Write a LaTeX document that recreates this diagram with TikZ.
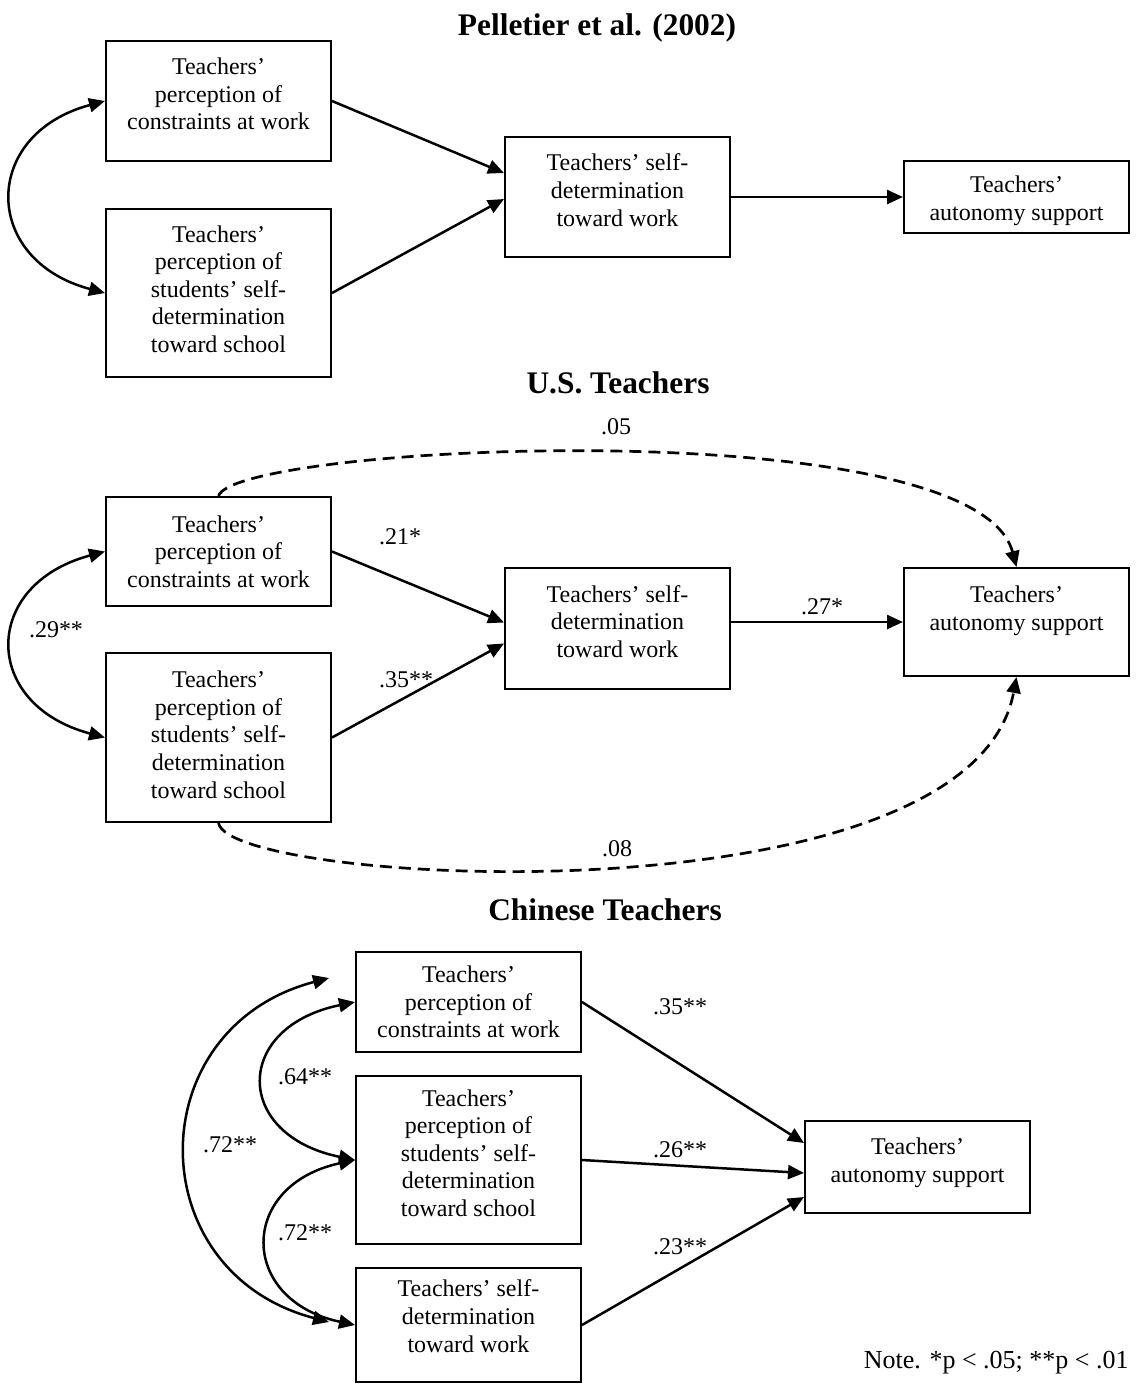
\documentclass[tikz,border=0pt]{standalone}
\usepackage{fontspec}
\setmainfont{Liberation Serif}
\usepackage{tikz}
\usetikzlibrary{arrows.meta,calc}

\begin{document}
\begin{tikzpicture}[y=-0.5pt,x=0.5pt,
	every node/.style={font=\fontsize{12}{13.8}\selectfont},
	box/.style={draw, line width=1pt, align=center, minimum width=112.5pt, inner sep=2pt},
	arr/.style={line width=1.25pt, -{Triangle[length=8pt,width=7pt]}},
	corr/.style={line width=1.25pt, {Triangle[length=8pt,width=7pt]}-{Triangle[length=8pt,width=7pt]}},
	dsh/.style={arr, line width=1.35pt, dash pattern=on 6pt off 3.5pt},
	ttl/.style={font=\fontsize{15.7}{18}\selectfont\bfseries, anchor=base},
	coef/.style={inner sep=0pt}]
	\newcommand\PCon{Teachers’\\perception of\\constraints at work}
	\newcommand\PStu{Teachers’\\perception of\\students’ self-\\determination\\toward school}
	\newcommand\SDet{Teachers’ self-\\determination\\toward work}
	\newcommand\ASup{Teachers’\\autonomy support}

	\useasboundingbox (0,0) rectangle (1136,1389);

	% Pelletier et al. (2002)
	\node[ttl] (t1) at (597,35) {Pelletier et al. (2002)};
	\node[box, minimum height=60pt] (a1) at (218.5,101) {\PCon\\[-6.8pt]};
	\node[box, minimum height=84pt] (b1) at (218.5,293) {\PStu\\[-9.8pt]};
	\node[box, minimum height=60pt] (c1) at (617.5,197) {\SDet\\[-6.8pt]};
	\node[box, minimum height=36pt] (d1) at (1016.5,197) {\rule{0pt}{12pt}\ASup};

	\draw[arr] (a1.east) -- ($(c1.west)+(0,-24)$);
	\draw[arr] (b1.east) -- ($(c1.west)+(0,2)$);
	\draw[arr] (c1) -- (d1);
	\draw[corr] (a1.west) .. controls +(-124,33) and +(-124,-33) .. (b1.west);

	% U.S. Teachers
	\node[ttl] (t2) at (618,393) {U.S. Teachers};
	\node[box, minimum height=54.5pt] (a2) at (218.5,551.5) {\PCon};
	\node[box, minimum height=84.5pt] (b2) at (218.5,737.5) {\PStu\\[-10.8pt]};
	\node[box, minimum height=60.5pt] (c2) at (617.5,628.5) {\SDet\\[-6.8pt]};
	\node[box, minimum height=54pt] (d2) at (1016.5,622) {\ASup\\[-0.2pt]};

	\draw[arr] (a2.east) -- ($(c2.west)+(0,-6)$);
	\draw[arr] (b2.east) -- ($(c2.west)+(0,15)$);
	\draw[arr] (c2.east |- d2.west) -- (d2.west);
	\draw[corr] (a2.west) .. controls +(-124,33) and +(-124,-33) .. (b2.west);
	\draw[dsh] (a2.north) .. controls +(16.5,-52) and +(-41.5,-158) .. (d2.north);
	\draw[dsh] (b2.south) .. controls +(11.5,63) and +(-46.5,249) .. (d2.south);

	\node[coef] (r21) at (400,537) {.21*};
	\node[coef] (r35) at (406,680) {.35**};
	\node[coef] (r27) at (822,607) {.27*};
	\node[coef] (r29) at (56,630) {.29**};
	\node[coef] (r05) at (616,427) {.05};
	\node[coef] (r08) at (617,849) {.08};

	% Chinese Teachers
	\node[ttl] (t3) at (605,920) {Chinese Teachers};
	\node[box, minimum height=50pt] (a3) at (468.5,1002) {\PCon};
	\node[box, minimum height=84pt] (b3) at (468.5,1160) {\PStu\\[-6.8pt]};
	\node[box, minimum height=57pt] (c3) at (468.5,1325) {\SDet\\[-4.8pt]};
	\node[box, minimum height=46pt] (d3) at (917.5,1167) {\ASup\\[-7.2pt]};

	\draw[arr] (a3.east) -- ($(d3.west)+(0,-24)$);
	\draw[arr] (b3.east) -- ($(d3.west)+(0,6)$);
	\draw[arr] (c3.east) -- ($(d3.west)+(0,30)$);
	\draw[corr] (a3.west) .. controls +(-122,25) and +(-122,-25) .. (b3.west);
	\draw[corr] (b3.west) .. controls +(-117,25) and +(-117,-25) .. (c3.west);
	\coordinate (o1) at ($(a3.west)+(-26,-24)$);
	\coordinate (o2) at ($(c3.west)+(-26,-3)$);
	\draw[corr] (o1) .. controls +(-190,50) and +(-190,-50) .. (o2);

	\node[coef] (s64) at (305,1077) {.64**};
	\node[coef] (s72a) at (230,1145) {.72**};
	\node[coef] (s72b) at (305,1233) {.72**};
	\node[coef] (s35) at (680,1007) {.35**};
	\node[coef] (s26) at (680,1150) {.26**};
	\node[coef] (s23) at (680,1247) {.23**};

	\node[coef, anchor=east, font=\fontsize{13}{15}\selectfont] (note) at (1129,1363) {Note. *p < .05; **p < .01};
\end{tikzpicture}
\end{document}
